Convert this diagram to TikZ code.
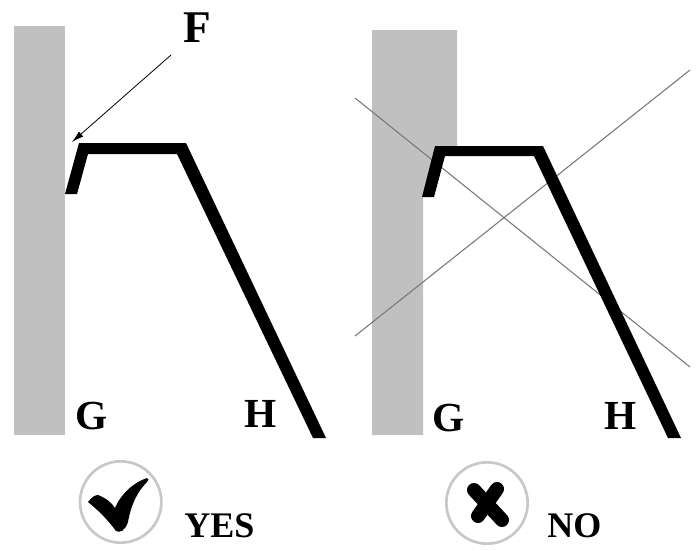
\documentclass[tikz,border=0pt]{standalone}
\usepackage{fontspec}
\setmainfont{Liberation Serif}
\usetikzlibrary{arrows.meta}
\definecolor{wallgray}{RGB}{192,192,192}
\definecolor{ringgray}{RGB}{200,200,200}
\tikzset{
  wall/.style={fill=wallgray,draw=none},
  hook/.style={fill=black,draw=none},
  cross/.style={line width=0.8pt,draw={rgb,255:red,120;green,120;blue,120}},
  letter/.style={font=\bfseries\fontsize{31}{31}\selectfont,inner sep=0pt},
  bigletter/.style={font=\bfseries\fontsize{34}{34}\selectfont,inner sep=0pt},
  caption/.style={font=\bfseries\fontsize{27}{27}\selectfont,inner sep=0pt},
  ring/.style={circle,draw=ringgray,line width=2pt,minimum size=61pt,inner sep=0pt},
  mark stroke/.style={line width=10.5pt,line cap=round,black}
}
\begin{document}
\begin{tikzpicture}[x=0.75pt,y=-0.75pt]
\useasboundingbox (0,0) rectangle (699,550);
% left
\fill[wall] (14,26) rectangle (65,435);
\fill[hook] (65,194) -- (79,143) -- (186,143) -- (326,438) -- (313,438) -- (177,154) -- (88,154) -- (77,194) -- cycle;
\node[bigletter] (F) at (197,28) {F};
\node[letter] (G1) at (92,416) {G};
\node[letter] (H1) at (261,414) {H};
\coordinate (Ftip) at (72,142);
\coordinate (Fstart) at (171,55);
\draw[line width=0.6pt,-{Latex[length=9pt,width=5pt]}] (Fstart) -- (Ftip);
% right
\fill[wall] (372,30) -- (457,30) -- (457,148) -- (440,148) -- (423,196) -- (423,435) -- (372,435) -- cycle;
\coordinate (a1) at (355,98);
\coordinate (a2) at (690,367);
\coordinate (b1) at (355,336);
\coordinate (b2) at (690,70);
\draw[cross] (a1) -- (a2);
\draw[cross] (b1) -- (b2);
\fill[hook] (422,197) -- (435,146) -- (543,146) -- (681,438) -- (668,438) -- (534,156) -- (445,156) -- (434,197) -- cycle;
\node[letter] (G2) at (449,418) {G};
\node[letter] (H2) at (621,416) {H};
% yes
\node[ring] (yesring) at (120.7,502) {};
\fill[black] (88,502) .. controls (92,497) and (95,495) .. (98,495)
  .. controls (106,498) and (112,503) .. (115,508)
  .. controls (122,492) and (135,482) .. (147,478)
  .. controls (149,478) and (149,481) .. (147,482)
  .. controls (137,492) and (131,505) .. (128,522)
  .. controls (125,531) and (120,533) .. (116,531)
  .. controls (108,520) and (98,510) .. (88,502) -- cycle;
\node[caption,anchor=west] (yes) at (184,526) {YES};
% no
\node[ring] (noring) at (487,503) {};
\coordinate (x1) at (474,490);
\coordinate (x2) at (502,520);
\coordinate (x3) at (497,489);
\coordinate (x4) at (478,516);
\draw[mark stroke] (x1) -- (x2);
\draw[mark stroke] (x3) -- (x4);
\node[caption,anchor=west] (no) at (547,526) {NO};
\end{tikzpicture}
\end{document}
